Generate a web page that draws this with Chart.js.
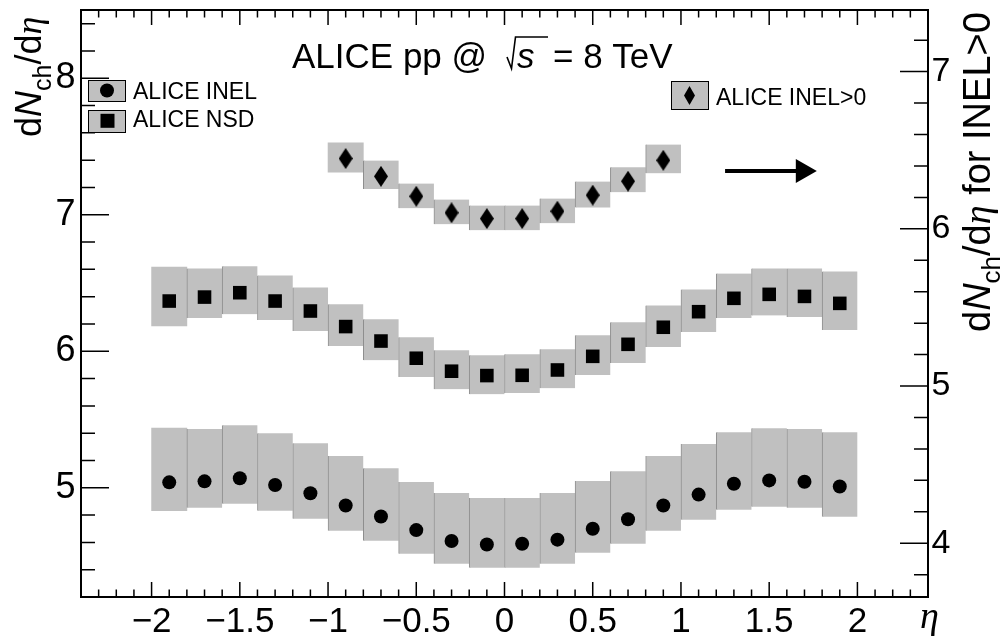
<!DOCTYPE html>
<html><head><meta charset="utf-8">
<script src="https://cdn.jsdelivr.net/npm/chart.js@4/dist/chart.umd.min.js"></script>
<style>html,body{margin:0;padding:0;background:#fff;}#wrap{width:1000px;height:640px;}</style>
</head><body><div id="wrap"><canvas id="c" width="1000" height="640"></canvas></div>
<script>
// ---- data ----
const etaBins = [-1.9,-1.7,-1.5,-1.3,-1.1,-0.9,-0.7,-0.5,-0.3,-0.1,0.1,0.3,0.5,0.7,0.9,1.1,1.3,1.5,1.7,1.9];
const inelVal  = [5.040,5.047,5.070,5.020,4.960,4.870,4.790,4.690,4.610,4.585,4.590,4.620,4.700,4.770,4.870,4.950,5.030,5.054,5.044,5.010];
const inelLow  = [4.832,4.854,4.883,4.832,4.773,4.685,4.612,4.517,4.444,4.415,4.415,4.444,4.525,4.590,4.685,4.766,4.839,4.861,4.854,4.788];
const inelHigh = [5.437,5.430,5.459,5.400,5.327,5.232,5.144,5.042,4.961,4.925,4.925,4.961,5.049,5.122,5.232,5.320,5.407,5.437,5.430,5.407];
const nsdVal   = [6.368,6.397,6.429,6.368,6.295,6.181,6.075,5.949,5.854,5.822,5.824,5.863,5.963,6.051,6.176,6.290,6.388,6.417,6.402,6.351];
const nsdLow   = [6.185,6.244,6.271,6.229,6.149,6.039,5.934,5.812,5.722,5.685,5.695,5.729,5.827,5.914,6.031,6.141,6.244,6.263,6.251,6.156];
const nsdHigh  = [6.617,6.607,6.622,6.556,6.468,6.344,6.234,6.102,6.007,5.971,5.978,6.015,6.117,6.212,6.336,6.453,6.570,6.607,6.607,6.585];
const etaGt0   = [-0.9,-0.7,-0.5,-0.3,-0.1,0.1,0.3,0.5,0.7,0.9];
const gt0Val   = [6.447,6.334,6.207,6.102,6.065,6.065,6.112,6.214,6.303,6.436];
const gt0Low   = [6.360,6.254,6.131,6.029,5.991,5.991,6.036,6.135,6.233,6.353];
const gt0High  = [6.547,6.434,6.288,6.186,6.148,6.148,6.193,6.301,6.392,6.536];
const xTickValues     = [-2,-1.5,-1,-0.5,0,0.5,1,1.5,2];
const leftTickValues  = [5,6,7,8];
const rightTickValues = [4,5,6,7];
const legendLeft  = ['ALICE INEL','ALICE NSD'];
const legendRight = ['ALICE INEL>0'];
const titleMain = 'ALICE pp @';
const titleTail = '= 8 TeV';

// ---- style ----
const SANS = '"Liberation Sans", Arial, sans-serif';
const SERIF = '"Liberation Serif", "DejaVu Serif", serif';
const BOX = '#c0c0c0';
function fmt(v){ return v < 0 ? '\u2212' + Math.abs(v) : String(v); }

function diamondCanvas(w, h){
  const c = document.createElement('canvas'); c.width = w; c.height = h;
  const g = c.getContext('2d'); g.fillStyle = '#000';
  g.beginPath(); g.moveTo(w/2,0); g.lineTo(w,h/2); g.lineTo(w/2,h); g.lineTo(0,h/2); g.closePath(); g.fill();
  return c;
}
const diamondPlot = diamondCanvas(14, 21);
const diamondLeg  = diamondCanvas(11, 19);

const sepBorder = c => c.dataIndex > 0 ? {top:0,right:0,bottom:0,left:1} : 0;
function boxSet(xs, lo, hi, axis){
  return {type:'bar', data: xs.map((x,i)=>({x:x, y:[lo[i], hi[i]]})), yAxisID: axis,
    backgroundColor: BOX, borderColor:'#8e8e8e', borderWidth: sepBorder, borderSkipped:false,
    barPercentage:1, categoryPercentage:1, grouped:false, order:5};
}
function pointSet(xs, vals, axis, style, r){
  return {type:'scatter', data: xs.map((x,i)=>({x:x, y:vals[i]})), yAxisID: axis, showLine:false,
    pointStyle: style, pointRadius: r, pointBackgroundColor:'#000', pointBorderWidth:0, order:1};
}

function drawRich(ctx, parts, x, y){
  for (const p of parts){
    ctx.font = p.f; ctx.fillText(p.t, x, y + (p.dy||0));
    x += ctx.measureText(p.t).width;
  }
  return x;
}

const rootDecor = {
  id:'rootDecor',
  afterDatasetsDraw(chart){
    const ctx = chart.ctx, ca = chart.chartArea;
    const sx = chart.scales.x, sy = chart.scales.y, sy2 = chart.scales.y2;
    ctx.save();
    ctx.strokeStyle = '#000';
    ctx.lineWidth = 1.5;
    ctx.beginPath();
    for (let k = -23; k <= 23; k++){
      const p = sx.getPixelForValue(k/10), L = (k % 5 === 0) ? 15 : 7.5;
      ctx.moveTo(p, ca.bottom); ctx.lineTo(p, ca.bottom - L);
      ctx.moveTo(p, ca.top); ctx.lineTo(p, ca.top + L);
    }
    for (let k = 22; k <= 42; k++){
      const p = sy.getPixelForValue(k/5), L = (k % 5 === 0) ? 28 : 14;
      ctx.moveTo(ca.left, p); ctx.lineTo(ca.left + L, p);
    }
    for (let k = 19; k <= 37; k++){
      const v = k/5; if (v <= sy2.min || v >= sy2.max) continue;
      const p = sy2.getPixelForValue(v), L = (k % 5 === 0) ? 28 : 14;
      ctx.moveTo(ca.right, p); ctx.lineTo(ca.right - L, p);
    }
    ctx.stroke();
    ctx.lineWidth = 2;
    ctx.strokeRect(ca.left, ca.top, ca.right - ca.left, ca.bottom - ca.top);

    // arrow (data coordinates)
    const ax0 = sx.getPixelForValue(1.25), ax1 = sx.getPixelForValue(1.77), ay = sy.getPixelForValue(7.32);
    ctx.lineWidth = 4; ctx.beginPath(); ctx.moveTo(ax0, ay); ctx.lineTo(ax1 - 19, ay); ctx.stroke();
    ctx.fillStyle = '#000'; ctx.beginPath(); ctx.moveTo(ax1, ay); ctx.lineTo(ax1 - 21, ay - 12); ctx.lineTo(ax1 - 21, ay + 12); ctx.closePath(); ctx.fill();

    // title
    ctx.fillStyle = '#000'; ctx.textBaseline = 'alphabetic'; ctx.textAlign = 'left';
    ctx.font = '35px ' + SANS; ctx.fillText(titleMain, 292, 68);
    ctx.lineWidth = 1.6; ctx.beginPath();
    ctx.moveTo(507, 57); ctx.lineTo(511.5, 68.5); ctx.lineTo(515.5, 37); ctx.lineTo(548, 37); ctx.stroke();
    ctx.font = 'italic 35px ' + SANS; ctx.fillText('s', 517, 68);
    ctx.font = '35px ' + SANS; ctx.fillText(titleTail, 553, 68);

    // legend
    ctx.lineWidth = 1;
    const lbox = (x, y, w, h) => { ctx.fillStyle = BOX; ctx.fillRect(x, y, w, h); ctx.strokeStyle = '#000'; ctx.strokeRect(x + 0.5, y + 0.5, w, h); };
    lbox(88, 80, 37, 21); lbox(88, 110, 37, 22); lbox(671, 81, 37, 28);
    ctx.fillStyle = '#000';
    ctx.beginPath(); ctx.arc(107, 90.5, 7, 0, Math.PI*2); ctx.fill();
    ctx.fillRect(100.5, 113.8, 14, 14);
    ctx.drawImage(diamondLeg, 689.5 - 5.5, 95.5 - 9.5);
    ctx.font = '23px ' + SANS;
    ctx.fillText(legendLeft[0], 133, 99.3);
    ctx.fillText(legendLeft[1], 133, 126.7);
    ctx.fillText(legendRight[0], 716, 105);

    // axis titles
    const big = 36;
    ctx.save(); ctx.translate(41, 137); ctx.rotate(-Math.PI/2);
    drawRich(ctx, [
      {t:'d', f: big + 'px ' + SANS}, {t:'N', f:'italic ' + big + 'px ' + SANS},
      {t:'ch', f:'25px ' + SANS, dy: 10}, {t:'/d', f: big + 'px ' + SANS},
      {t:'\u03b7', f:'italic ' + big + 'px ' + SERIF}], 0, 0);
    ctx.restore();
    const rs = 38;
    ctx.save(); ctx.translate(990, 332); ctx.rotate(-Math.PI/2);
    drawRich(ctx, [
      {t:'d', f: rs + 'px ' + SANS}, {t:'N', f:'italic ' + rs + 'px ' + SANS},
      {t:'ch', f:'26px ' + SANS, dy: 10}, {t:'/d', f: rs + 'px ' + SANS},
      {t:'\u03b7', f:'italic ' + rs + 'px ' + SERIF}, {t:' for INEL>0', f: rs + 'px ' + SANS}], 0, 0);
    ctx.restore();
    ctx.font = 'italic 38px ' + SERIF; ctx.fillText('\u03b7', 920, 628);
    ctx.restore();
  }
};

const noPad = s => { s.paddingTop = 0; s.paddingBottom = 0; s.paddingLeft = 0; s.paddingRight = 0; };
const tickFont = s => ({family: SANS, size: s});
new Chart(document.getElementById('c'), {
  type: 'scatter',
  data: { datasets: [
    boxSet(etaBins, inelLow, inelHigh, 'y'),
    boxSet(etaBins, nsdLow, nsdHigh, 'y'),
    boxSet(etaGt0, gt0Low, gt0High, 'y2'),
    pointSet(etaBins, inelVal, 'y', 'circle', 7),
    pointSet(etaBins, nsdVal, 'y', 'rect', 9.6),
    pointSet(etaGt0, gt0Val, 'y2', diamondPlot, 8)
  ]},
  options: {
    responsive: false, animation: false, devicePixelRatio: 1, events: [],
    layout: {padding: {top: 10, left: 0, right: 0, bottom: 0}},
    plugins: {legend: {display: false}, tooltip: {enabled: false}},
    scales: {
      x: {type:'linear', position:'bottom', min:-2.4, max:2.4, offset:false,
          grid:{display:false, drawTicks:false}, border:{display:false},
          ticks:{font: tickFont(35), color:'#000', padding:4, autoSkip:false, maxRotation:0, minRotation:0, callback: v => fmt(v)},
          afterBuildTicks: s => { s.ticks = xTickValues.map(v => ({value: v})); },
          afterFit: s => { s.height = 43; noPad(s); }},
      y: {type:'linear', position:'left', min:4.2, max:8.5,
          grid:{display:false, drawTicks:false}, border:{display:false},
          ticks:{font: tickFont(36), color:'#000', padding:5.5, autoSkip:false, callback: v => fmt(v)},
          afterBuildTicks: s => { s.ticks = leftTickValues.map(v => ({value: v})); },
          afterFit: s => { s.width = 81; noPad(s); }},
      y2: {type:'linear', position:'right', min:3.658, max:7.392,
          grid:{display:false, drawTicks:false}, border:{display:false},
          ticks:{font: tickFont(34), color:'#000', padding:3.5, autoSkip:false, callback: v => fmt(v)},
          afterBuildTicks: s => { s.ticks = rightTickValues.map(v => ({value: v})); },
          afterFit: s => { s.width = 72; noPad(s); }}
    }
  },
  plugins: [rootDecor]
});
</script></body></html>
